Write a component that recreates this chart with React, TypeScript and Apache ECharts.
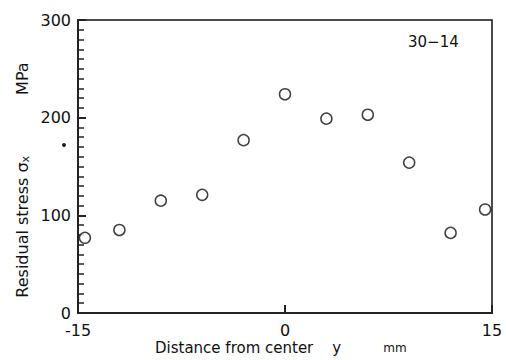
import React, { useEffect, useRef } from "react";
import * as echarts from "echarts";

const distances = [-14.5, -12, -9, -6, -3, 0, 3, 6, 9, 12, 14.5];
const stresses = [77, 85, 115, 121, 177, 224, 199, 203, 154, 82, 106];
const xTicks = [-15, 0, 15];
const yTicks = [0, 100, 200, 300];

const FONT = "DejaVu Sans";

export default function App() {
  const ref = useRef<HTMLDivElement>(null);
  useEffect(() => {
    if (!ref.current) return;
    const chart = echarts.init(ref.current, null, { renderer: "svg" });
    chart.setOption({
      animation: false,
      backgroundColor: "#ffffff",
      grid: {
        left: 78,
        right: 14,
        top: 20,
        bottom: 47,
        show: true,
        borderColor: "#111",
        borderWidth: 1.5,
      },
      xAxis: {
        type: "value",
        min: xTicks[0],
        max: xTicks[xTicks.length - 1],
        interval: 15,
        axisLine: { show: true, onZero: false, lineStyle: { color: "#222", width: 2 } },
        axisTick: { show: true, inside: true, length: 8, lineStyle: { color: "#222", width: 2 } },
        splitLine: { show: false },
        axisLabel: { color: "#111", fontFamily: FONT, fontSize: 16, margin: 9 },
      },
      yAxis: {
        type: "value",
        min: yTicks[0],
        max: yTicks[yTicks.length - 1],
        interval: 100,
        axisLine: { show: true, onZero: false, lineStyle: { color: "#222", width: 2 } },
        axisTick: { show: true, inside: true, length: 8, lineStyle: { color: "#222", width: 2 } },
        minorTick: { show: true, splitNumber: 10, length: 6, lineStyle: { color: "#222", width: 1.5 } },
        splitLine: { show: false },
        axisLabel: { color: "#111", fontFamily: FONT, fontSize: 16, margin: 7 },
      },
      series: [
        {
          type: "scatter",
          data: distances.map((d, i) => [d, stresses[i]]),
          symbol: "circle",
          symbolSize: 11,
          itemStyle: { color: "#ffffff", borderColor: "#111", borderWidth: 1.5 },
        },
      ],
      graphic: [
        {
          type: "text",
          x: 408,
          y: 42,
          style: {
            text: "30\u221214",
            font: `15px '${FONT}'`,
            fill: "#111",
            textAlign: "left",
            textVerticalAlign: "middle",
          },
        },
        {
          type: "text",
          x: 155,
          y: 348,
          style: {
            text: "{a|Distance from center    y}{b|           mm}",
            textAlign: "left",
            textVerticalAlign: "middle",
            rich: {
              a: { fontFamily: FONT, fontSize: 15, fill: "#111", color: "#111" },
              b: { fontFamily: FONT, fontSize: 12, fill: "#111", color: "#111" },
            },
          },
        },
        {
          type: "text",
          x: 22,
          y: 180,
          rotation: Math.PI / 2,
          style: {
            text: "{a|Residual stress \u03c3}{s|x}{a|            MPa}",
            textAlign: "center",
            textVerticalAlign: "middle",
            rich: {
              a: { fontFamily: FONT, fontSize: 16, fill: "#111", color: "#111" },
              s: { fontFamily: FONT, fontSize: 11, fill: "#111", color: "#111", padding: [6, 0, 0, 0] },
            },
          },
        },
        {
          type: "circle",
          shape: { cx: 64, cy: 145, r: 2 },
          style: { fill: "#222" },
        },
      ],
    });
    return () => chart.dispose();
  }, []);
  return <div ref={ref} style={{ width: 506, height: 360, position: "absolute", left: 0, top: 0 }} />;
}
